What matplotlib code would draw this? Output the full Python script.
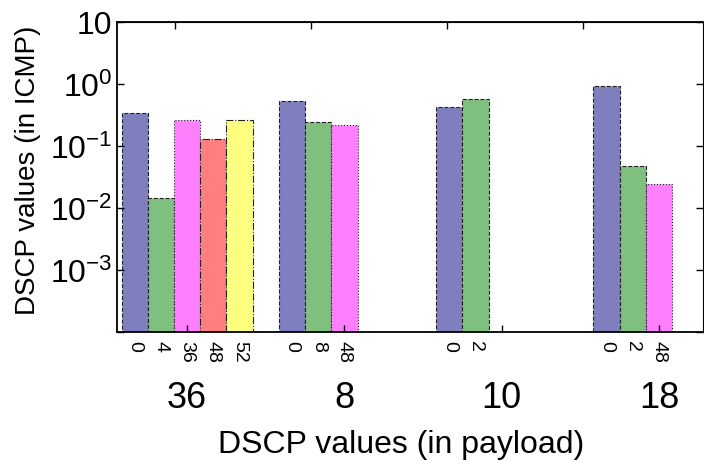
import numpy as np
from matplotlib import pyplot as plt

plt.rcParams['font.family'] = ['Liberation Sans', 'DejaVu Sans']
plt.rcParams['mathtext.fontset'] = 'custom'
plt.rcParams['mathtext.rm'] = 'Liberation Sans'
plt.rcParams['mathtext.it'] = 'Liberation Sans'
plt.rcParams['mathtext.default'] = 'regular'

# DSCP in payload (groups) and DSCP seen in ICMP (bars inside each group)
groups = ['36', '8', '10', '18']
bar_labels = [['0', '4', '36', '48', '52'],
              ['0', '8', '48'],
              ['0', '2'],
              ['0', '2', '48']]
values = [[0.34, 0.0145, 0.26, 0.13, 0.26],
          [0.53, 0.244, 0.22],
          [0.425, 0.57],
          [0.94, 0.048, 0.024]]

colors = ['#7f7fbf', '#7fbf7f', '#ff7fff', '#ff7f7f', '#ffff7f']
edges = ['--', '--', ':', '-.', '-.']

ytick_vals = [1e-4, 1e-3, 1e-2, 1e-1, 1, 10]
ytick_text = ['', '$10^{-3}$', '$10^{-2}$', '$10^{-1}$', '$10^{0}$', '10']

fig = plt.figure(figsize=(7.04, 4.64), dpi=100)
ax = fig.add_axes([117 / 704, 1 - 333 / 464, 586 / 704, 310 / 464])

w = 1 / 6.0
group_x = np.arange(1, len(groups) + 1)
for g, gx in enumerate(group_x):
    for k, v in enumerate(values[g]):
        xc = gx + (k - 2) * w
        ax.bar(xc, v, width=w, bottom=1e-4, color=colors[k], edgecolor='#222222',
               linewidth=0.8, linestyle=edges[k])
        ax.text(xc, -0.025, bar_labels[g][k], transform=ax.get_xaxis_transform(),
                rotation=-90, ha='center', va='top', fontsize=14)
    ax.text(gx, -0.155, groups[g], transform=ax.get_xaxis_transform(),
            ha='center', va='top', fontsize=26)

ax.set_yscale('log')
ax.set_ylim(1e-4, 10)
ax.set_xlim(0.554, 4.28)
ax.set_yticks(ytick_vals, ytick_text, fontsize=23)
ax.minorticks_off()
ax.set_xticks(group_x, [''] * len(groups))
ax.tick_params(direction='in', length=5, width=1, right=True, top=False)

top = ax.secondary_xaxis('top')
top.set_xticks([0.923, 1.785, 2.653, 3.514], ['', '', '', ''])
top.tick_params(direction='in', length=5, width=1)

for s in ax.spines.values():
    s.set_linewidth(1.3)
ax.spines['right'].set_linewidth(0.8)

fig.text(28 / 704, 1 - 170 / 464, 'DSCP values (in ICMP)', rotation=90,
         ha='center', va='center', fontsize=20)
fig.text(401 / 704, 1 - 445 / 464, 'DSCP values (in payload)',
         ha='center', va='center', fontsize=23)

fig.savefig('out.png', dpi=100)
